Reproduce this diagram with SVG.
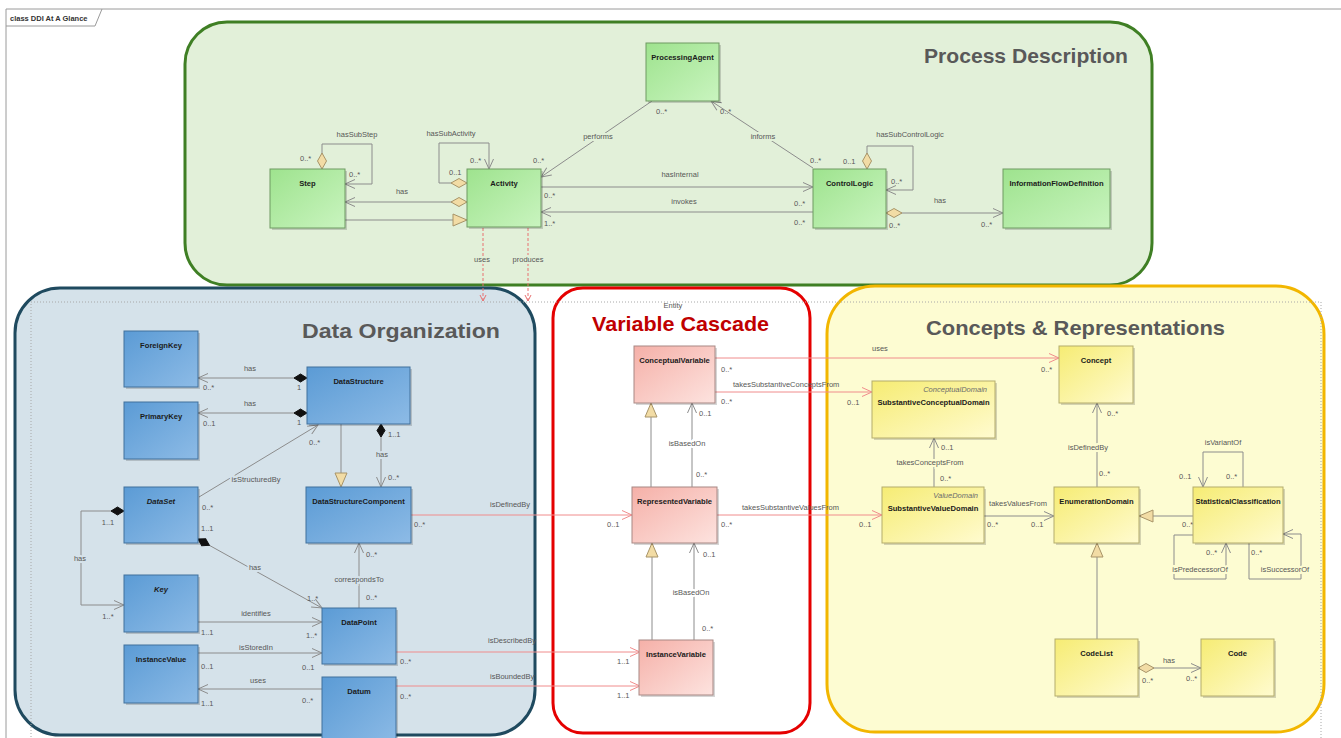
<svg xmlns="http://www.w3.org/2000/svg" width="1341" height="738" viewBox="0 0 1341 738">
<style>
text{font-family:"Liberation Sans",Arial,sans-serif}
.frame{fill:none;stroke:#9a9a9a;stroke-width:1}
.grp{stroke-width:3}
.title{font-size:21px;font-weight:bold;fill:#595959}
.shadow{fill:#000;opacity:.16}
.nm{font-size:7.6px;font-weight:bold;text-anchor:middle;fill:#1b1b1b}
.it{font-style:italic}
.st{font-size:7.5px;font-style:italic;text-anchor:end;fill:#6b6b6b}
.c{fill:none;stroke:#8c8c8c;stroke-width:1}
.r{fill:none;stroke:#f08c8c;stroke-width:1}
.d{fill:none;stroke:#e87070;stroke-width:1;stroke-dasharray:3,2}
.l{font-size:7.5px;fill:#575757}
.m{text-anchor:middle}
.e{text-anchor:end}
.hg{paint-order:stroke;stroke:#e2f0d9;stroke-width:4px}
.hb{paint-order:stroke;stroke:#d5e2ea;stroke-width:4px}
.hw{paint-order:stroke;stroke:#ffffff;stroke-width:4px}
.hy{paint-order:stroke;stroke:#fdfcd2;stroke-width:4px}
.green{fill:url(#gGreen);stroke:#6f9a63}
.blue{fill:url(#gBlue);stroke:#41719c}
.pink{fill:url(#gPink);stroke:#a88884}
.yellow{fill:url(#gYellow);stroke:#b4ac6c}
</style>
<defs>
<linearGradient id="gGreen" x1="0" y1="0" x2="1" y2="1"><stop offset="0" stop-color="#9ee38e"/><stop offset="1" stop-color="#c9f4bf"/></linearGradient>
<linearGradient id="gBlue" x1="0" y1="0" x2="1" y2="1"><stop offset="0" stop-color="#5b9bd5"/><stop offset="1" stop-color="#8dbbe6"/></linearGradient>
<linearGradient id="gPink" x1="0" y1="0" x2="1" y2="1"><stop offset="0" stop-color="#f5b0a8"/><stop offset="1" stop-color="#fde3df"/></linearGradient>
<linearGradient id="gYellow" x1="0" y1="0" x2="1" y2="1"><stop offset="0" stop-color="#f6ec74"/><stop offset="1" stop-color="#fffbcf"/></linearGradient>
<marker id="arr" markerUnits="userSpaceOnUse" markerWidth="12" markerHeight="10" refX="11" refY="5" orient="auto"><path d="M1,0.5 L11,5 L1,9.5" fill="none" stroke="#8c8c8c"/></marker>
<marker id="arrR" markerUnits="userSpaceOnUse" markerWidth="12" markerHeight="10" refX="11" refY="5" orient="auto"><path d="M1,0.5 L11,5 L1,9.5" fill="none" stroke="#f08c8c"/></marker>
<marker id="arrD" markerUnits="userSpaceOnUse" markerWidth="8" markerHeight="8" refX="7" refY="4" orient="auto"><path d="M1,1 L7,4 L1,7" fill="none" stroke="#e87070"/></marker>
<marker id="tri" markerUnits="userSpaceOnUse" markerWidth="16" markerHeight="14" refX="15" refY="7" orient="auto"><path d="M1,1 L15,7 L1,13 Z" fill="#f2dca5" stroke="#a89468"/></marker>
<marker id="dia" markerUnits="userSpaceOnUse" markerWidth="18" markerHeight="11" refX="0.5" refY="5.5" orient="auto"><path d="M0.5,5.5 L8.5,1 L16.5,5.5 L8.5,10 Z" fill="#f2dca5" stroke="#a89468"/></marker>
<marker id="diaF" markerUnits="userSpaceOnUse" markerWidth="15" markerHeight="10" refX="0.5" refY="5" orient="auto"><path d="M0.5,5 L7,1 L13.5,5 L7,9 Z" fill="#111" stroke="#111"/></marker>
</defs>

<rect width="1341" height="738" fill="#ffffff"/>
<g id="frame">
<path class="frame" d="M6,738 L6,9 L1341,9"/>
<path class="frame" d="M6,26 L95,26 L102,9"/>
<text x="10" y="21" style="font-size:7.5px;font-weight:bold;fill:#333">class DDI At A Glance</text>
</g>

<g id="groups">
<rect id="g-process" class="grp" x="185" y="22" width="967" height="263" rx="42" fill="#e2f0d9" stroke="#3f7f24"/>
<rect id="g-data" class="grp" x="15" y="288" width="520" height="447" rx="45" fill="#d5e2ea" stroke="#1f4a5f"/>
<rect id="g-variable" class="grp" x="553" y="288" width="257" height="445" rx="30" fill="#ffffff" stroke="#e50000"/>
<rect id="g-concepts" class="grp" x="827" y="286" width="497" height="446" rx="48" fill="#fdfcd2" stroke="#f2b600"/>
<rect x="31" y="302" width="1290" height="450" fill="none" stroke="#a8a8a8" stroke-dasharray="1,2"/>
<text class="title" x="1128" y="63" text-anchor="end" textLength="204" lengthAdjust="spacingAndGlyphs">Process Description</text>
<text class="title" x="500" y="338" text-anchor="end" textLength="198" lengthAdjust="spacingAndGlyphs">Data Organization</text>
<text class="title" x="592" y="331" textLength="177" lengthAdjust="spacingAndGlyphs" style="fill:#c00000">Variable Cascade</text>
<text class="l m" x="673" y="308">Entity</text>
<text class="title" x="926" y="335" textLength="299" lengthAdjust="spacingAndGlyphs">Concepts &amp; Representations</text>
</g>

<g id="connectors">
<!-- Process -->
<path class="c" d="M322,169 L322,144 L372,144 L372,184 L345,184" marker-start="url(#dia)" marker-end="url(#arr)"/>
<text class="l m" x="357" y="137">hasSubStep</text>
<text class="l" x="300" y="161">0..*</text>
<text class="l" x="349" y="177">0..*</text>
<path class="c" d="M467,183 L439,183 L439,143 L489,143 L489,169" marker-start="url(#dia)" marker-end="url(#arr)"/>
<text class="l m" x="451" y="136">hasSubActivity</text>
<text class="l" x="470" y="163">0..*</text>
<text class="l" x="449" y="175">0..1</text>
<path class="c" d="M467,202 L345,202" marker-start="url(#dia)" marker-end="url(#arr)"/>
<text class="l m" x="402" y="194">has</text>
<text class="l m" x="333" y="208">0..*</text>
<text class="l m" x="477" y="208">0..*</text>
<path class="c" d="M345,220 L467,220" marker-end="url(#tri)"/>
<path class="c" d="M652,101 L541,177" marker-end="url(#arr)"/>
<text class="l m hg" x="598" y="139">performs</text>
<text class="l" x="656" y="114">0..*</text>
<text class="l" x="533" y="163">0..*</text>
<path class="c" d="M813,168 L711,101" marker-end="url(#arr)"/>
<text class="l m hg" x="763" y="139">informs</text>
<text class="l" x="720" y="114">0..*</text>
<text class="l" x="810" y="163">0..*</text>
<path class="c" d="M541,187 L813,187" marker-end="url(#arr)"/>
<text class="l m" x="680" y="177">hasInternal</text>
<text class="l" x="544" y="198">0..*</text>
<path class="c" d="M813,212 L541,212" marker-end="url(#arr)"/>
<text class="l m" x="684" y="204">invokes</text>
<text class="l" x="544" y="226">1..*</text>
<text class="l" x="794" y="206">0..*</text>
<text class="l" x="794" y="225">0..*</text>
<path class="c" d="M867,169 L867,146 L913,146 L913,190 L886,190" marker-start="url(#dia)" marker-end="url(#arr)"/>
<text class="l m" x="910" y="137">hasSubControlLogic</text>
<text class="l" x="843" y="164">0..1</text>
<text class="l" x="891" y="184">0..*</text>
<path class="c" d="M886,213 L1003,213" marker-start="url(#dia)" marker-end="url(#arr)"/>
<text class="l m" x="940" y="203">has</text>
<text class="l" x="889" y="228">0..*</text>
<text class="l" x="981" y="227">0..*</text>
<path class="d" d="M483,228 L483,301" marker-end="url(#arrD)"/>
<path class="d" d="M528,228 L528,301" marker-end="url(#arrD)"/>
<text class="l m hg" x="482" y="262">uses</text>
<text class="l m hg" x="528" y="262">produces</text>

<!-- Data Organization -->
<path class="c" d="M307,378 L198,378" marker-start="url(#diaF)" marker-end="url(#arr)"/>
<text class="l m" x="250" y="371">has</text>
<text class="l" x="203" y="390">0..*</text>
<text class="l" x="297" y="390">1</text>
<path class="c" d="M307,413 L198,413" marker-start="url(#diaF)" marker-end="url(#arr)"/>
<text class="l m" x="250" y="406">has</text>
<text class="l" x="203" y="426">0..1</text>
<text class="l" x="297" y="425">1</text>
<path class="c" d="M199,497 L318,425" marker-end="url(#arr)"/>
<text class="l m hb" x="256" y="482">isStructuredBy</text>
<text class="l" x="309" y="445">0..*</text>
<text class="l" x="202" y="510">0..*</text>
<path class="c" d="M341,424 L341,487" marker-end="url(#tri)"/>
<path class="c" d="M381,424 L381,487" marker-start="url(#diaF)" marker-end="url(#arr)"/>
<text class="l" x="388" y="437">1..1</text>
<text class="l m hb" x="382" y="457">has</text>
<text class="l" x="388" y="480">0..*</text>
<path class="r" d="M411,515 L632,515" marker-end="url(#arrR)"/>
<text class="l" x="490" y="507">isDefinedBy</text>
<text class="l" x="414" y="527">0..*</text>
<text class="l" x="607" y="527">0..1</text>
<path class="c" d="M124,511 L81,511 L81,605 L124,605" marker-start="url(#diaF)" marker-end="url(#arr)"/>
<text class="l m hb" x="80" y="561">has</text>
<text class="l m" x="108" y="525">1..1</text>
<text class="l m" x="108" y="619">1..*</text>
<path class="c" d="M198,539 L322,608" marker-start="url(#diaF)" marker-end="url(#arr)"/>
<text class="l m hb" x="255" y="570">has</text>
<text class="l" x="201" y="531">1..1</text>
<text class="l" x="307" y="601">1..*</text>
<path class="c" d="M359,608 L359,543" marker-end="url(#arr)"/>
<text class="l m hb" x="359" y="582">correspondsTo</text>
<text class="l" x="366" y="557">0..*</text>
<text class="l" x="366" y="600">0..*</text>
<path class="c" d="M198,622 L322,622" marker-end="url(#arr)"/>
<text class="l m" x="256" y="616">identifies</text>
<text class="l" x="201" y="635">1..1</text>
<text class="l" x="306" y="638">1..*</text>
<path class="c" d="M198,653 L322,653" marker-end="url(#arr)"/>
<text class="l m" x="256" y="650">isStoredIn</text>
<text class="l" x="201" y="669">0..1</text>
<text class="l" x="302" y="670">0..1</text>
<path class="c" d="M322,689 L198,689" marker-end="url(#arr)"/>
<text class="l m" x="258" y="683">uses</text>
<text class="l" x="201" y="706">1..1</text>
<text class="l" x="302" y="703">0..*</text>
<path class="r" d="M396,652 L640,652" marker-end="url(#arrR)"/>
<text class="l" x="488" y="643">isDescribedBy</text>
<text class="l" x="400" y="664">0..*</text>
<text class="l" x="617" y="664">1..1</text>
<path class="r" d="M396,686 L640,686" marker-end="url(#arrR)"/>
<text class="l" x="490" y="679">isBoundedBy</text>
<text class="l" x="400" y="699">0..*</text>
<text class="l" x="617" y="698">1..1</text>

<!-- Variable Cascade -->
<path class="c" d="M651,487 L651,403" marker-end="url(#tri)"/>
<path class="c" d="M692,487 L692,403" marker-end="url(#arr)"/>
<text class="l m hw" x="687" y="446">isBasedOn</text>
<text class="l" x="699" y="416">0..1</text>
<text class="l" x="696" y="477">0..*</text>
<path class="c" d="M652,640 L652,543" marker-end="url(#tri)"/>
<path class="c" d="M694,640 L694,543" marker-end="url(#arr)"/>
<text class="l m hw" x="691" y="595">isBasedOn</text>
<text class="l" x="703" y="557">0..1</text>
<text class="l" x="702" y="631">0..*</text>
<path class="r" d="M715,358 L1059,358" marker-end="url(#arrR)"/>
<text class="l" x="872" y="351">uses</text>
<text class="l" x="721" y="372">0..*</text>
<text class="l" x="1041" y="372">0..*</text>
<path class="r" d="M715,392 L872,392" marker-end="url(#arrR)"/>
<text class="l" x="733" y="387">takesSubstantiveConceptsFrom</text>
<text class="l" x="721" y="404">0..*</text>
<text class="l" x="847" y="405">0..1</text>
<path class="r" d="M717,515 L882,515" marker-end="url(#arrR)"/>
<text class="l" x="742" y="510">takesSubstantiveValuesFrom</text>
<text class="l" x="721" y="527">0..*</text>
<text class="l" x="859" y="527">0..1</text>

<!-- Concepts -->
<path class="c" d="M934,487 L934,438" marker-end="url(#arr)"/>
<text class="l m hy" x="930" y="465">takesConceptsFrom</text>
<text class="l" x="941" y="450">0..1</text>
<text class="l" x="940" y="481">0..*</text>
<path class="c" d="M1097,487 L1097,403" marker-end="url(#arr)"/>
<text class="l m hy" x="1088" y="450">isDefinedBy</text>
<text class="l" x="1107" y="416">0..*</text>
<text class="l" x="1099" y="476">0..*</text>
<path class="c" d="M984,516 L1054,516" marker-end="url(#arr)"/>
<text class="l m" x="1018" y="506">takesValuesFrom</text>
<text class="l" x="987" y="527">0..*</text>
<text class="l" x="1031" y="527">0..1</text>
<path class="c" d="M1193,516 L1139,516" marker-end="url(#tri)"/>
<path class="c" d="M1243,487 L1243,452 L1203,452 L1203,487" marker-end="url(#arr)"/>
<text class="l m" x="1223" y="445">isVariantOf</text>
<text class="l" x="1179" y="479">0..1</text>
<text class="l" x="1226" y="479">0..*</text>
<path class="c" d="M1193,535 L1174,535 L1174,579 L1226,579 L1226,543" marker-end="url(#arr)"/>
<text class="l m hy" x="1200" y="572">isPredecessorOf</text>
<text class="l" x="1182" y="527">0..*</text>
<text class="l" x="1206" y="555">0..*</text>
<path class="c" d="M1249,543 L1249,579 L1301,579 L1301,534 L1283,534" marker-end="url(#arr)"/>
<text class="l m hy" x="1285" y="572">isSuccessorOf</text>
<text class="l" x="1251" y="555">0..*</text>
<text class="l" x="1269" y="527">0..*</text>
<path class="c" d="M1097,639 L1097,543" marker-end="url(#tri)"/>
<path class="c" d="M1138,668 L1201,668" marker-start="url(#dia)" marker-end="url(#arr)"/>
<text class="l m" x="1169" y="663">has</text>
<text class="l" x="1142" y="683">0..*</text>
<text class="l" x="1186" y="681">0..*</text>
</g>

<g id="n-processingagent"><rect class="shadow" x="648" y="45" width="73" height="58"/><rect class="green" x="646" y="43" width="73" height="58"/><text class="nm" x="682.5" y="60">ProcessingAgent</text></g>
<g id="n-step"><rect class="shadow" x="272" y="171" width="75" height="59"/><rect class="green" x="270" y="169" width="75" height="59"/><text class="nm" x="307.5" y="186">Step</text></g>
<g id="n-activity"><rect class="shadow" x="469" y="171" width="74" height="58"/><rect class="green" x="467" y="169" width="74" height="58"/><text class="nm" x="504" y="186">Activity</text></g>
<g id="n-controllogic"><rect class="shadow" x="815" y="171" width="73" height="59"/><rect class="green" x="813" y="169" width="73" height="59"/><text class="nm" x="849.5" y="186">ControlLogic</text></g>
<g id="n-informationflowdefinition"><rect class="shadow" x="1005" y="171" width="107" height="59"/><rect class="green" x="1003" y="169" width="107" height="59"/><text class="nm" x="1056.5" y="186">InformationFlowDefinition</text></g>

<g id="n-foreignkey"><rect class="shadow" x="126" y="333" width="74" height="56"/><rect class="blue" x="124" y="331" width="74" height="56"/><text class="nm" x="161" y="348">ForeignKey</text></g>
<g id="n-primarykey"><rect class="shadow" x="126" y="404" width="74" height="57"/><rect class="blue" x="124" y="402" width="74" height="57"/><text class="nm" x="161" y="419">PrimaryKey</text></g>
<g id="n-datastructure"><rect class="shadow" x="309" y="369" width="103" height="57"/><rect class="blue" x="307" y="367" width="103" height="57"/><text class="nm" x="358.5" y="384">DataStructure</text></g>
<g id="n-dataset"><rect class="shadow" x="126" y="489" width="74" height="56"/><rect class="blue" x="124" y="487" width="74" height="56"/><text class="nm it" x="161" y="504">DataSet</text></g>
<g id="n-datastructurecomponent"><rect class="shadow" x="308" y="489" width="105" height="56"/><rect class="blue" x="306" y="487" width="105" height="56"/><text class="nm" x="358.5" y="504">DataStructureComponent</text></g>
<g id="n-key"><rect class="shadow" x="126" y="577" width="74" height="57"/><rect class="blue" x="124" y="575" width="74" height="57"/><text class="nm it" x="161" y="592">Key</text></g>
<g id="n-datapoint"><rect class="shadow" x="324" y="610" width="74" height="56"/><rect class="blue" x="322" y="608" width="74" height="56"/><text class="nm" x="359" y="625">DataPoint</text></g>
<g id="n-instancevalue"><rect class="shadow" x="126" y="647" width="74" height="58"/><rect class="blue" x="124" y="645" width="74" height="58"/><text class="nm" x="161" y="662">InstanceValue</text></g>
<g id="n-datum"><rect class="shadow" x="324" y="679" width="74" height="70"/><rect class="blue" x="322" y="677" width="74" height="70"/><text class="nm" x="359" y="694">Datum</text></g>

<g id="n-conceptualvariable"><rect class="shadow" x="636" y="348" width="81" height="57"/><rect class="pink" x="634" y="346" width="81" height="57"/><text class="nm" x="674.5" y="363">ConceptualVariable</text></g>
<g id="n-representedvariable"><rect class="shadow" x="634" y="489" width="85" height="56"/><rect class="pink" x="632" y="487" width="85" height="56"/><text class="nm" x="674.5" y="504">RepresentedVariable</text></g>
<g id="n-instancevariable"><rect class="shadow" x="641" y="642" width="74" height="55"/><rect class="pink" x="639" y="640" width="74" height="55"/><text class="nm" x="676" y="657">InstanceVariable</text></g>

<g id="n-concept"><rect class="shadow" x="1061" y="348" width="74" height="57"/><rect class="yellow" x="1059" y="346" width="74" height="57"/><text class="nm" x="1096" y="363">Concept</text></g>
<g id="n-substantiveconceptualdomain"><rect class="shadow" x="874" y="383" width="123" height="57"/><rect class="yellow" x="872" y="381" width="123" height="57"/><text class="st" x="987" y="392">ConceptualDomain</text><text class="nm" x="933.5" y="405">SubstantiveConceptualDomain</text></g>
<g id="n-substantivevaluedomain"><rect class="shadow" x="884" y="489" width="102" height="56"/><rect class="yellow" x="882" y="487" width="102" height="56"/><text class="st" x="978" y="498">ValueDomain</text><text class="nm" x="933" y="511">SubstantiveValueDomain</text></g>
<g id="n-enumerationdomain"><rect class="shadow" x="1056" y="489" width="85" height="56"/><rect class="yellow" x="1054" y="487" width="85" height="56"/><text class="nm" x="1096.5" y="504">EnumerationDomain</text></g>
<g id="n-statisticalclassification"><rect class="shadow" x="1195" y="489" width="90" height="56"/><rect class="yellow" x="1193" y="487" width="90" height="56"/><text class="nm" x="1238" y="504">StatisticalClassification</text></g>
<g id="n-codelist"><rect class="shadow" x="1057" y="641" width="83" height="57"/><rect class="yellow" x="1055" y="639" width="83" height="57"/><text class="nm" x="1096.5" y="656">CodeList</text></g>
<g id="n-code"><rect class="shadow" x="1203" y="641" width="73" height="57"/><rect class="yellow" x="1201" y="639" width="73" height="57"/><text class="nm" x="1237.5" y="656">Code</text></g>
</svg>
